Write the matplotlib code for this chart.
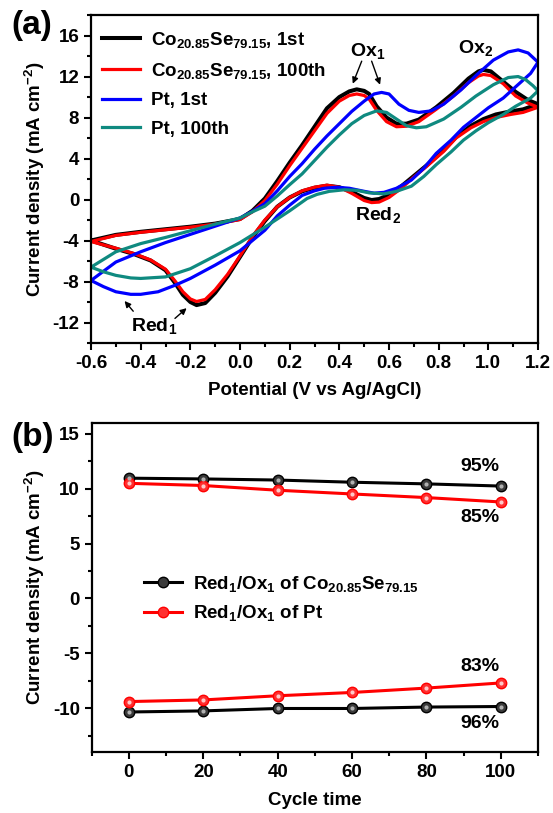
import numpy as np
import matplotlib
matplotlib.use("Agg")
import matplotlib.pyplot as plt
from matplotlib.ticker import MultipleLocator, FormatStrFormatter

plt.rcParams['font.family'] = ['Liberation Sans', 'DejaVu Sans']
plt.rcParams['font.weight'] = 'bold'
plt.rcParams['mathtext.fontset'] = 'custom'
plt.rcParams['mathtext.rm'] = 'Liberation Sans:bold'
plt.rcParams['mathtext.it'] = 'Liberation Sans:bold'
plt.rcParams['mathtext.bf'] = 'Liberation Sans:bold'
plt.rcParams['mathtext.default'] = 'rm'
plt.rcParams['axes.unicode_minus'] = False

# ---- (a) cyclic voltammograms: forward (upper) and reverse (lower) branches
co1_fwd_v = [-0.6, -0.5, -0.4, -0.3, -0.2, -0.1, 0.0, 0.05, 0.1, 0.15, 0.2, 0.25, 0.3, 0.35, 0.4, 0.44, 0.47,
             0.5, 0.52, 0.55, 0.59, 0.63, 0.67, 0.72, 0.79, 0.86, 0.92, 0.96, 0.98, 1.01, 1.06, 1.11, 1.16, 1.2]
co1_fwd_j = [-4.0, -3.45, -3.15, -2.9, -2.65, -2.35, -1.9, -1.1, 0.1, 1.8, 3.6, 5.3, 7.1, 8.9, 10.0, 10.55, 10.75,
             10.6, 10.3, 9.1, 8.0, 7.4, 7.4, 7.8, 9.0, 10.4, 11.8, 12.5, 12.65, 12.5, 11.5, 10.5, 9.7, 9.3]
co_rev_v = [1.2, 1.14, 1.09, 1.03, 0.98, 0.93, 0.87, 0.82, 0.75, 0.7, 0.65, 0.6, 0.56, 0.53, 0.5, 0.45, 0.4,
            0.35, 0.3, 0.25, 0.2, 0.15, 0.1, 0.05, 0.0, -0.05, -0.1, -0.14, -0.175, -0.2, -0.23, -0.26, -0.3,
            -0.36, -0.43, -0.5, -0.6]
co1_rev_j = [9.3, 8.8, 8.6, 8.3, 7.85, 7.2, 6.1, 4.8, 3.3, 2.3, 1.3, 0.45, 0.05, -0.05, 0.15, 0.75, 1.2,
             1.35, 1.15, 0.8, 0.2, -0.7, -2.1, -3.7, -5.6, -7.5, -9.1, -10.1, -10.3, -10.0, -9.3, -8.2, -6.9,
             -5.95, -5.3, -4.8, -4.0]

co100_fwd_j = [-4.1, -3.5, -3.2, -2.95, -2.7, -2.4, -1.95, -1.2, -0.1, 1.5, 3.3, 5.0, 6.7, 8.4, 9.6, 10.15, 10.3,
               10.15, 9.8, 8.7, 7.6, 7.1, 7.15, 7.6, 8.8, 10.1, 11.4, 12.05, 12.2, 12.1, 11.3, 10.1, 9.4, 9.0]
co100_rev_j = [9.0, 8.5, 8.3, 8.0, 7.6, 7.0, 6.0, 4.7, 3.2, 2.2, 1.1, 0.2, -0.25, -0.3, -0.1, 0.6, 1.2,
               1.4, 1.2, 0.85, 0.2, -0.7, -2.0, -3.6, -5.5, -7.3, -8.8, -9.75, -9.95, -9.7, -9.0, -8.0, -6.8,
               -5.9, -5.25, -4.75, -4.1]

pt1_fwd_v = [-0.6, -0.5, -0.4, -0.3, -0.2, -0.1, 0.0, 0.05, 0.1, 0.15, 0.2, 0.25, 0.3, 0.35, 0.4, 0.45, 0.5,
             0.54, 0.57, 0.6, 0.64, 0.68, 0.72, 0.77, 0.82, 0.89, 0.95, 1.02, 1.08, 1.12, 1.16, 1.2]
pt1_fwd_j = [-7.9, -6.1, -5.1, -4.2, -3.4, -2.6, -1.8, -1.15, -0.4, 0.85, 2.25, 3.5, 4.9, 6.2, 7.4, 8.6, 9.6,
             10.3, 10.45, 10.3, 9.3, 8.7, 8.5, 8.65, 9.3, 10.7, 12.1, 13.6, 14.4, 14.6, 14.3, 13.4]
pt1_rev_v = [1.2, 1.17, 1.11, 1.06, 1.0, 0.95, 0.9, 0.85, 0.79, 0.74, 0.69, 0.63, 0.58, 0.54, 0.5, 0.44, 0.39,
             0.34, 0.3, 0.25, 0.2, 0.15, 0.1, 0.0, -0.1, -0.2, -0.26, -0.33, -0.4, -0.44, -0.5, -0.55, -0.6]
pt1_rev_j = [13.4, 12.3, 11.0, 9.9, 8.95, 8.0, 7.05, 5.8, 4.5, 3.05, 1.9, 1.1, 0.7, 0.62, 0.8, 1.1, 1.2,
             1.1, 0.85, 0.4, -0.55, -1.6, -3.0, -5.0, -6.4, -7.7, -8.35, -9.0, -9.25, -9.25, -9.0, -8.5, -7.9]

pt100_fwd_v = [-0.6, -0.5, -0.4, -0.3, -0.2, -0.1, 0.0, 0.05, 0.1, 0.15, 0.2, 0.25, 0.3, 0.35, 0.4, 0.45, 0.5,
               0.55, 0.59, 0.63, 0.67, 0.71, 0.75, 0.82, 0.89, 0.95, 1.02, 1.08, 1.12, 1.15, 1.18, 1.2]
pt100_fwd_j = [-6.6, -5.1, -4.3, -3.7, -3.05, -2.4, -1.8, -1.2, -0.65, 0.35, 1.45, 2.5, 3.8, 5.1, 6.3, 7.4, 8.2,
               8.65, 8.5, 7.85, 7.2, 7.0, 7.1, 7.85, 9.0, 10.1, 11.2, 11.9, 12.0, 11.7, 11.1, 10.6]
pt100_rev_v = [1.2, 1.17, 1.11, 1.06, 1.0, 0.95, 0.9, 0.85, 0.79, 0.74, 0.69, 0.63, 0.58, 0.52, 0.47, 0.42,
               0.36, 0.31, 0.27, 0.2, 0.15, 0.1, 0.0, -0.1, -0.2, -0.3, -0.4, -0.44, -0.5, -0.55, -0.6]
pt100_rev_j = [10.6, 9.9, 9.1, 8.3, 7.5, 6.7, 5.8, 4.65, 3.4, 2.25, 1.3, 0.8, 0.55, 0.65, 0.9, 0.95,
               0.8, 0.5, 0.1, -1.1, -1.9, -2.7, -4.2, -5.5, -6.75, -7.55, -7.7, -7.65, -7.4, -7.05, -6.6]

# ---- (b) peak current vs cycle number
cycles = [0, 20, 40, 60, 80, 100]
co_ox1 = [10.97, 10.9, 10.8, 10.6, 10.45, 10.25]
co_red1 = [-10.35, -10.25, -10.03, -10.03, -9.9, -9.85]
pt_ox1 = [10.5, 10.3, 9.87, 9.53, 9.2, 8.8]
pt_red1 = [-9.4, -9.25, -8.87, -8.57, -8.17, -7.7]

FS = 13.5


def style_axes(ax):
    for sp in ax.spines.values():
        sp.set_linewidth(1.6)
    ax.tick_params(which='both', direction='out', top=False, right=False, width=1.5,
                   labelsize=FS)
    ax.tick_params(which='major', length=5)
    ax.tick_params(which='minor', length=3)
    for lab in ax.get_xticklabels() + ax.get_yticklabels():
        lab.set_fontweight('bold')


fig = plt.figure(figsize=(5.53, 8.13), dpi=100)

# ---------------- panel (a)
ax1 = fig.add_axes([0.1646, 0.5781, 0.8083, 0.4034])
lw = 2.3
ax1.plot(co1_fwd_v + co_rev_v, co1_fwd_j + co1_rev_j, color='black', lw=lw + 0.6,
         label='Co$_{20.85}$Se$_{79.15}$, 1st')
ax1.plot(co1_fwd_v + co_rev_v, co100_fwd_j + co100_rev_j, color='#ff0000', lw=lw,
         label='Co$_{20.85}$Se$_{79.15}$, 100th')
ax1.plot(pt1_fwd_v + pt1_rev_v, pt1_fwd_j + pt1_rev_j, color='#0000ff', lw=lw, label='Pt, 1st')
ax1.plot(pt100_fwd_v + pt100_rev_v, pt100_fwd_j + pt100_rev_j, color='#0f8a80', lw=lw,
         label='Pt, 100th')

ax1.set_xlim(-0.6, 1.2)
ax1.set_ylim(-14, 18)
ax1.xaxis.set_major_locator(MultipleLocator(0.2))
ax1.xaxis.set_minor_locator(MultipleLocator(0.1))
ax1.xaxis.set_major_formatter(FormatStrFormatter('%.1f'))
ax1.yaxis.set_major_locator(MultipleLocator(4))
ax1.yaxis.set_minor_locator(MultipleLocator(2))
style_axes(ax1)
ax1.set_xlabel('Potential (V vs Ag/AgCl)', fontsize=FS, fontweight='bold', labelpad=7)
ax1.set_ylabel('Current density (mA cm$^{-2}$)', fontsize=FS, fontweight='bold')

ax1.legend(loc='upper left', bbox_to_anchor=(0.0, 0.99), frameon=False, fontsize=FS,
           handlelength=2.0, handletextpad=0.6, labelspacing=0.6, borderaxespad=0.2)

akw = dict(arrowstyle='-|>', color='black', lw=1.0, mutation_scale=9, shrinkA=0, shrinkB=0)
ax1.text(0.515, 14.5, 'Ox$_1$', ha='center', va='center', fontsize=FS + 0.5, fontweight='bold')
ax1.annotate('', xy=(0.454, 11.3), xytext=(0.49, 13.5), arrowprops=akw)
ax1.annotate('', xy=(0.564, 11.2), xytext=(0.53, 13.5), arrowprops=akw)
ax1.text(0.95, 14.8, 'Ox$_2$', ha='center', va='center', fontsize=FS + 0.5, fontweight='bold')
ax1.text(0.555, -1.5, 'Red$_2$', ha='center', va='center', fontsize=FS + 0.5, fontweight='bold')
ax1.text(-0.345, -12.3, 'Red$_1$', ha='center', va='center', fontsize=FS + 0.5, fontweight='bold')
ax1.annotate('', xy=(-0.465, -9.9), xytext=(-0.43, -10.9), arrowprops=akw)
ax1.annotate('', xy=(-0.215, -10.6), xytext=(-0.262, -11.6), arrowprops=akw)

# ---------------- panel (b)
ax2 = fig.add_axes([0.1658, 0.0750, 0.8071, 0.4047])
mkw = dict(marker='o', markersize=7.5, lw=2.2)
ax2.plot(cycles, co_ox1, color='black', mfc='#3a3a3a', mec='black',
         label='Red$_1$/Ox$_1$ of Co$_{20.85}$Se$_{79.15}$', **mkw)
ax2.plot(cycles, pt_ox1, color='#ff0000', mfc='#ff3030', mec='#ff0000',
         label='Red$_1$/Ox$_1$ of Pt', **mkw)
ax2.plot(cycles, co_red1, color='black', mfc='#3a3a3a', mec='black', **mkw)
ax2.plot(cycles, pt_red1, color='#ff0000', mfc='#ff3030', mec='#ff0000', **mkw)
# little highlight on the sphere-like markers
for ys, hc in [(co_ox1, '#b0b0b0'), (co_red1, '#b0b0b0'), (pt_ox1, '#ffc8c8'), (pt_red1, '#ffc8c8')]:
    ax2.plot(cycles, ys, ls='none', marker='o', markersize=3, mfc=hc, mec='none')

ax2.set_xlim(-10, 110)
ax2.set_ylim(-14, 16)
ax2.xaxis.set_major_locator(MultipleLocator(20))
ax2.xaxis.set_minor_locator(MultipleLocator(10))
ax2.yaxis.set_major_locator(MultipleLocator(5))
ax2.yaxis.set_minor_locator(MultipleLocator(2.5))
style_axes(ax2)
ax2.set_xlabel('Cycle time', fontsize=FS, fontweight='bold', labelpad=8)
ax2.set_ylabel('Current density (mA cm$^{-2}$)', fontsize=FS, fontweight='bold')

ax2.legend(loc='center left', bbox_to_anchor=(0.08, 0.466), frameon=False, fontsize=FS,
           handlelength=2.0, handletextpad=0.6, labelspacing=0.5)

for xv, yv, s in [(94.5, 12.0, '95%'), (94.5, 7.4, '85%'), (94.5, -6.2, '83%'), (94.5, -11.4, '96%')]:
    ax2.text(xv, yv, s, ha='center', va='center', fontsize=FS + 0.5, fontweight='bold')

fig.text(0.02, 1 - 10 / 813, '(a)', ha='left', va='top', fontsize=24, fontweight='bold')
fig.text(0.02, 1 - 422 / 813, '(b)', ha='left', va='top', fontsize=24, fontweight='bold')

fig.savefig('out.png', dpi=100)
